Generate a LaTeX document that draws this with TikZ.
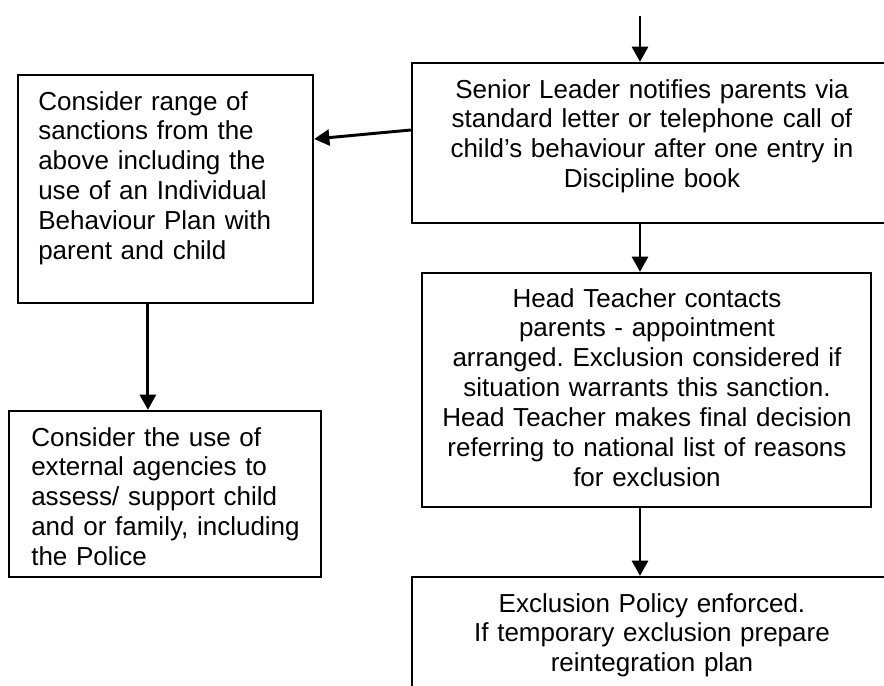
\documentclass[tikz,border=0pt]{standalone}
\usepackage{fontspec}
\setmainfont{Liberation Sans}
\usetikzlibrary{arrows.meta}
\frenchspacing

\tikzset{
  box/.style={draw,line width=1.6pt,inner sep=0pt},
  txt/.style={inner sep=0pt,font=\fontsize{18.5pt}{21.3pt}\selectfont},
  arr/.style={line width=2.1pt,-{Triangle[length=0.38cm,width=0.4cm]}}
}

\begin{document}
\begin{tikzpicture}[x=0.025cm,y=-0.025cm]
\useasboundingbox (0,0) rectangle (884,686);
\clip (0,0) rectangle (884,686);
% boxes
\node[box,minimum width=7.375cm,minimum height=5.7cm] (sanctions) at (165.5,189) {};
\node[box,minimum width=7.8cm,minimum height=4.15cm] (agencies) at (165,494) {};
\node[box,minimum width=12cm,minimum height=4cm] (leader) at (652,143) {};
\node[box,minimum width=11.225cm,minimum height=5.85cm] (head) at (646.5,390) {};
\node[box,minimum width=12cm,minimum height=3.6cm] (policy) at (652,649) {};
\coordinate (start) at (640,16);
% texts
\node[txt,anchor=base west,text width=7cm,align=left] (sanctionsT) at (38,110)
  {Consider range of\\sanctions from the\\above including the\\use of an Individual\\Behaviour Plan with\\parent and child};
\node[txt,anchor=base west,text width=7.5cm,align=left] (agenciesT) at (31,446)
  {Consider the use of\\external agencies to\\assess/ support child\\and or family, including\\the Police};
\node[txt,anchor=base,text width=11cm,align=center] (leaderT) at (652,98)
  {Senior Leader notifies parents via\\standard letter or telephone call of\\child’s behaviour after one entry in\\Discipline book};
\node[txt,anchor=base,text width=11cm,align=center] (headT) at (647,307)
  {Head Teacher contacts\\parents - appointment\\arranged. Exclusion considered if\\situation warrants this sanction.\\Head Teacher makes final decision\\referring to national list of reasons\\for exclusion};
\node[txt,anchor=base,text width=11cm,align=center] (policyT) at (652,612)
  {Exclusion Policy enforced.\\If temporary exclusion prepare\\reintegration plan};
% arrows
\draw[arr] (start) -- (leader.north -| start);
\draw[arr] ([yshift=0.325cm]leader.west) -- ([yshift=1.25cm]sanctions.east);
\draw[arr] ([xshift=-0.44cm]sanctions.south) -- ([xshift=-0.44cm]sanctions.south |- agencies.north);
\draw[arr] (leader.south -| start) -- (head.north -| start);
\draw[arr] (head.south -| start) -- (policy.north -| start);
\end{tikzpicture}
\end{document}
